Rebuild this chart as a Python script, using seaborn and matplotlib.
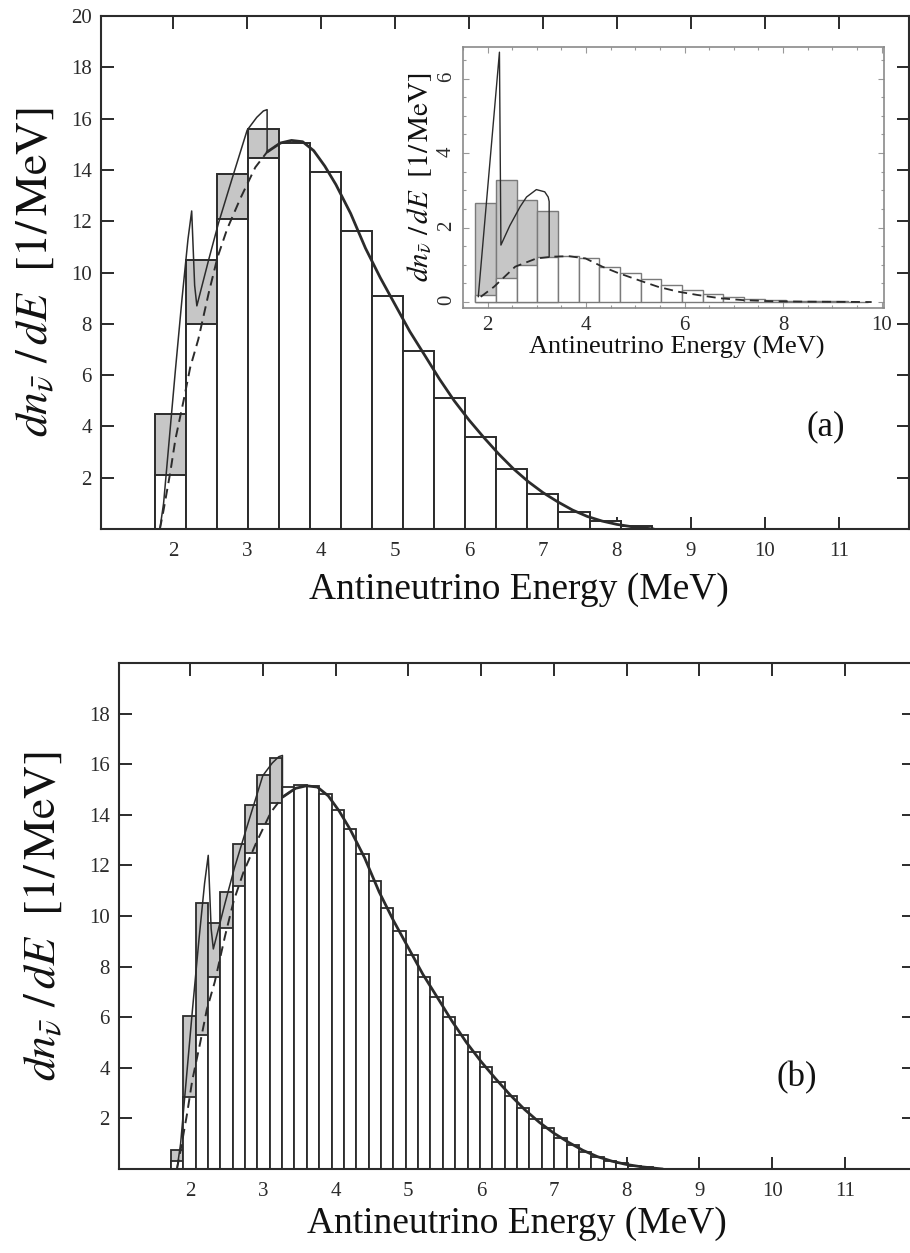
import numpy as np
import pandas as pd
import matplotlib
matplotlib.use("Agg")
import matplotlib.pyplot as plt
import seaborn as sns

# ---------------- data ----------------
# panel (a): 0.42 MeV bins starting at 1.75 MeV
bin_start_a = 1.75
bin_width_a = 0.42
smooth_a = [2.1, 8.0, 12.1, 14.45, 15.05, 13.9, 11.6, 9.1, 6.95, 5.1,
            3.6, 2.33, 1.38, 0.66, 0.3, 0.1]
total_a = [4.5, 10.5, 13.85, 15.6]

# panel (b): 0.17 MeV bins starting at 1.735 MeV
bin_start_b = 1.735
bin_width_b = 0.17
smooth_b = [0.3, 2.86, 5.3, 7.6, 9.53, 11.2, 12.5, 13.62, 14.45, 15.1,
            15.17, 15.14, 14.84, 14.2, 13.43, 12.47, 11.38, 10.32, 9.4, 8.48,
            7.59, 6.82, 6.03, 5.31, 4.61, 4.03, 3.43, 2.9, 2.4, 1.97,
            1.61, 1.21, 0.95, 0.69, 0.49, 0.33, 0.22, 0.13, 0.07]
total_b = [0.75, 6.06, 10.5, 9.73, 10.94, 12.85, 14.4, 15.58, 16.26]

# inset: same binning as panel (a)
inset_smooth = [0.19, 0.64, 0.99, 1.21, 1.23, 1.18, 0.95, 0.77, 0.62, 0.45,
                0.31, 0.21, 0.14, 0.09, 0.06, 0.04, 0.03, 0.02, 0.01]
inset_total = [2.65, 3.27, 2.73, 2.44]

# continuous spectra
smooth_E = [1.82, 1.87, 1.96, 2.03, 2.14, 2.23, 2.34, 2.48, 2.60, 2.73,
            2.91, 3.11, 3.27, 3.45, 3.60, 3.75, 3.90, 4.05, 4.20, 4.40,
            4.60, 4.80, 5.00, 5.20, 5.40, 5.60, 5.80, 6.00, 6.20, 6.40,
            6.60, 6.80, 7.00, 7.20, 7.40, 7.60, 7.80, 8.00, 8.20, 8.40, 8.50]
smooth_S = [0.0, 0.74, 2.2, 3.5, 5.0, 6.3, 7.4, 9.2, 10.6, 11.7,
            12.9, 14.1, 14.7, 15.05, 15.15, 15.1, 14.75, 14.15, 13.43, 12.3,
            10.95, 9.8, 8.75, 7.7, 6.78, 5.85, 5.0, 4.25, 3.57, 2.93,
            2.35, 1.85, 1.42, 1.06, 0.74, 0.49, 0.31, 0.18, 0.09, 0.03, 0.0]
total_E = [1.82, 1.87, 1.95, 2.03, 2.12, 2.20, 2.25, 2.29, 2.32, 2.48,
           2.61, 2.79, 3.00, 3.13, 3.22, 3.27, 3.27]
total_S = [0.0, 1.0, 3.6, 6.2, 9.0, 11.3, 12.4, 9.5, 8.7, 10.5,
           11.9, 13.6, 15.55, 16.05, 16.3, 16.35, 14.7]

inset_smooth_E = [1.86, 2.13, 2.56, 2.99, 3.33, 3.66, 3.99, 4.33, 4.63, 5.06,
                  5.46, 5.86, 6.26, 6.73, 7.2, 7.8, 8.5, 9.8]
inset_smooth_S = [0.14, 0.41, 0.95, 1.17, 1.22, 1.23, 1.17, 0.95, 0.79, 0.59,
                  0.41, 0.28, 0.19, 0.10, 0.05, 0.02, 0.01, 0.0]
inset_total_E = [1.81, 2.24, 2.27, 2.45, 2.66, 2.79, 2.99, 3.16, 3.23, 3.25, 3.25]
inset_total_S = [0.14, 6.71, 1.53, 2.05, 2.56, 2.82, 3.02, 2.96, 2.82, 2.7, 1.21]

x_ticks = [2, 3, 4, 5, 6, 7, 8, 9, 10, 11]
y_ticks_a = [2, 4, 6, 8, 10, 12, 14, 16, 18, 20]
y_ticks_b = [2, 4, 6, 8, 10, 12, 14, 16, 18]
inset_x_ticks = [2, 4, 6, 8, 10]
inset_y_ticks = [0, 2, 4, 6]

x_label = "Antineutrino Energy (MeV)"
y_label = r"$dn_{\bar{\nu}}\ /\,dE\ \ [1/\,\mathrm{MeV}]$"

# ---------------- style ----------------
sns.set_style("ticks")
plt.rcParams["font.family"] = ["Liberation Serif", "DejaVu Serif"]
plt.rcParams["mathtext.fontset"] = "stix"

INK = "#2b2b2b"
GRAY = "#c6c6c6"


def draw_bars(ax, start, width, smooth, total, edge, lw):
    edges = start + width * np.arange(len(smooth) + 1)
    centers = edges[:-1] + width / 2
    n = len(total)
    df_total = pd.DataFrame({"E": centers[:n], "h": total})
    df_smooth = pd.DataFrame({"E": centers, "h": smooth})
    sns.histplot(data=df_total, x="E", weights="h",
                 bins=[float(v) for v in edges[:n + 1]], ax=ax,
                 color=GRAY, edgecolor=edge, linewidth=lw, alpha=1)
    sns.histplot(data=df_smooth, x="E", weights="h",
                 bins=[float(v) for v in edges], ax=ax,
                 color="white", edgecolor=edge, linewidth=lw, alpha=1)


def draw_curves(ax, lw_main, lw_thin):
    E = np.array(smooth_E)
    S = np.array(smooth_S)
    low = E <= 3.45
    high = E >= 3.27
    sns.lineplot(x=E[low], y=S[low], ax=ax, color=INK, lw=lw_thin + 0.3,
                 linestyle=(0, (5, 3)), sort=False, estimator=None)
    sns.lineplot(x=E[high], y=S[high], ax=ax, color=INK, lw=lw_main,
                 sort=False, estimator=None)
    sns.lineplot(x=total_E, y=total_S, ax=ax, color=INK, lw=lw_thin,
                 sort=False, estimator=None)


def style_main(ax, yticks):
    ax.set_xlim(1.03, 11.95)
    ax.set_ylim(0, 20)
    ax.set_xticks(x_ticks)
    ax.set_yticks(yticks)
    ax.tick_params(direction="in", top=True, right=True, length=9,
                   width=1.4, color=INK, labelsize=15, labelcolor=INK)
    ax.tick_params(axis="x", pad=9)
    ax.tick_params(axis="y", pad=7)
    for sp in ax.spines.values():
        sp.set_visible(True)
        sp.set_linewidth(1.5)
        sp.set_color(INK)
    ax.set_xlabel(x_label, fontsize=27, color="#111111")
    ax.set_ylabel(y_label, fontsize=33, color="#111111")


fig = plt.figure(figsize=(9.1, 12.53), dpi=100)

# ---------------- panel (a) ----------------
ax_a = fig.add_axes([0.1115, 0.5778, 0.8874, 0.4094])
draw_bars(ax_a, bin_start_a, bin_width_a, smooth_a, total_a, INK, 1.4)
draw_curves(ax_a, 2.0, 1.1)
style_main(ax_a, y_ticks_a)
ax_a.xaxis.set_label_coords(0.517, -0.084)
ax_a.yaxis.set_label_coords(-0.055, 0.5)
ax_a.text(0.897, 0.2, "(a)", transform=ax_a.transAxes, fontsize=25,
          ha="center", va="center", color="#111111")

# inset
ax_i = fig.add_axes([0.5088, 0.7542, 0.4626, 0.2083])
ax_i.set_facecolor("white")
draw_bars(ax_i, bin_start_a, bin_width_a, inset_smooth, inset_total, "#7a7a7a", 1.0)
sns.lineplot(x=inset_smooth_E, y=inset_smooth_S, ax=ax_i, color=INK, lw=1.3,
             linestyle=(0, (5, 3)), sort=False, estimator=None)
sns.lineplot(x=inset_total_E, y=inset_total_S, ax=ax_i, color=INK, lw=1.0,
             sort=False, estimator=None)
ax_i.set_xlim(1.5, 10.05)
ax_i.set_ylim(-0.16, 6.85)
ax_i.set_xticks(inset_x_ticks)
ax_i.set_yticks(inset_y_ticks)
ax_i.set_xticks(np.arange(1.5, 10.05, 0.5), minor=True)
ax_i.set_yticks(np.arange(0, 6.85, 0.5), minor=True)
ax_i.tick_params(which="both", direction="in", top=True, right=True,
                 color="#999999", width=0.8, labelsize=15, labelcolor=INK)
ax_i.tick_params(which="major", length=4)
ax_i.tick_params(which="minor", length=2)
ax_i.tick_params(axis="y", labelrotation=90, pad=5)
ax_i.tick_params(axis="x", pad=6)
for sp in ax_i.spines.values():
    sp.set_visible(True)
    sp.set_linewidth(1.2)
    sp.set_color("#8a8a8a")
ax_i.set_xlabel(x_label, fontsize=19, color="#111111")
ax_i.set_ylabel(y_label, fontsize=21, color="#111111", labelpad=2)
ax_i.xaxis.set_label_coords(0.508, -0.107)

# ---------------- panel (b) ----------------
ax_b = fig.add_axes([0.1313, 0.0670, 0.873, 0.4038])
draw_bars(ax_b, bin_start_b, bin_width_b, smooth_b, total_b, INK, 1.3)
draw_curves(ax_b, 2.0, 1.1)
style_main(ax_b, y_ticks_b)
ax_b.xaxis.set_label_coords(0.5, -0.073)
ax_b.yaxis.set_label_coords(-0.069, 0.5)
ax_b.text(0.853, 0.18, "(b)", transform=ax_b.transAxes, fontsize=25,
          ha="center", va="center", color="#111111")

fig.savefig("out.png", dpi=100, facecolor="white")
